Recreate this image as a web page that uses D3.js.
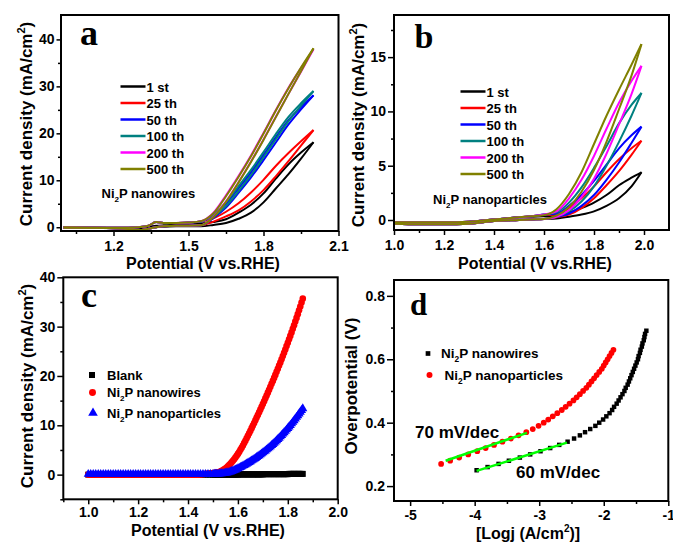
<!DOCTYPE html>
<html>
<head>
<meta charset="utf-8">
<script src="https://cdn.jsdelivr.net/npm/d3@7"></script>
<style>
    body { margin: 0; background: #fff; }
    text { font-family: "Liberation Sans", Arial, sans-serif; font-weight: bold; fill: #000; }
    .tick text { font-size: 14px; }
    .letter { font-family: "Liberation Serif", "Times New Roman", serif; }
</style>
</head>
<body>
<script>

// ---------------- data ----------------

// panel a: CV cycles of Ni2P nanowires, potential grid (V vs RHE)
var potA = [1.0, 1.1, 1.2, 1.26, 1.3, 1.34, 1.37, 1.4, 1.45, 1.5,
            1.55, 1.6, 1.65, 1.7, 1.75, 1.8, 1.85, 1.9, 1.95, 2.0];
// current density (mA/cm2), outgoing branch and return branch per cycle
var a1stUp   = [-0.1, -0.1, -0.1, -0.1, 0.0, 0.1, 0.3, 0.4, 0.5, 0.6, 0.8, 1.1, 1.7, 3.1, 4.8, 7.2, 10.4, 13.4, 15.9, 18.1];
var a1stLo   = [0.0, -0.1, -0.2, -0.3, -0.4, -0.2, 0.0, 0.1, 0.2, 0.2, 0.2, 0.5, 0.9, 1.8, 3.1, 5.3, 8.3, 11.3, 14.6, 18.1];
var a25Up    = [-0.1, -0.1, -0.1, -0.1, 0.0, 0.3, 1.1, 0.9, 0.9, 1.0, 1.2, 1.9, 3.3, 5.1, 7.4, 10.1, 13.1, 15.8, 18.3, 20.7];
var a25Lo    = [0.0, -0.1, -0.2, -0.4, -0.6, -0.3, 0.0, 0.2, 0.3, 0.3, 0.4, 1.2, 2.3, 3.6, 5.5, 7.9, 10.9, 14.1, 17.4, 20.7];
var a50Up    = [-0.1, -0.1, -0.1, -0.1, 0.0, 0.3, 1.1, 0.9, 0.9, 1.0, 1.2, 2.6, 5.0, 8.3, 11.7, 15.4, 19.2, 22.8, 25.6, 28.1];
var a50Lo    = [0.0, -0.1, -0.2, -0.4, -0.6, -0.3, 0.0, 0.2, 0.3, 0.3, 0.4, 2.0, 4.2, 7.3, 10.6, 14.3, 18.1, 21.9, 25.1, 28.1];
var a100Up   = [-0.1, -0.1, -0.1, -0.1, 0.0, 0.3, 1.1, 0.9, 0.9, 1.0, 1.2, 2.8, 5.3, 8.7, 12.2, 16.0, 19.9, 23.5, 26.4, 29.0];
var a100Lo   = [0.0, -0.1, -0.2, -0.4, -0.6, -0.3, 0.0, 0.2, 0.3, 0.3, 0.4, 2.2, 4.5, 7.7, 11.1, 14.9, 18.8, 22.6, 25.9, 29.0];
var a200Up   = [-0.1, -0.1, -0.1, -0.1, 0.0, 0.3, 1.1, 0.9, 0.9, 1.0, 1.3, 3.1, 6.8, 10.9, 15.3, 20.1, 25.0, 29.7, 33.9, 37.9];
var a200Lo   = [0.0, -0.1, -0.2, -0.4, -0.6, -0.3, 0.0, 0.2, 0.3, 0.3, 0.4, 2.3, 5.5, 9.6, 14.0, 18.7, 23.6, 28.4, 33.1, 37.9];
var a500Up   = [-0.1, -0.1, -0.1, -0.1, 0.0, 0.3, 1.1, 0.9, 0.9, 1.0, 1.3, 3.0, 6.6, 10.7, 15.1, 19.9, 24.9, 29.6, 34.0, 38.1];
var a500Lo   = [0.0, -0.1, -0.2, -0.4, -0.6, -0.3, 0.0, 0.2, 0.3, 0.3, 0.4, 2.2, 5.4, 9.5, 13.9, 18.6, 23.5, 28.4, 33.2, 38.1];

// panel b: CV cycles of Ni2P nanoparticles
var potB = [1.0, 1.1, 1.2, 1.3, 1.4, 1.5, 1.55, 1.6, 1.65, 1.7, 1.75, 1.8, 1.85, 1.9, 1.95, 1.99];
var b1stUp  = [-0.2, -0.2, -0.2, -0.15, 0.05, 0.25, 0.3, 0.35, 0.4, 0.7, 1.1, 1.6, 2.3, 3.2, 3.9, 4.4];
var b1stLo  = [-0.35, -0.4, -0.4, -0.35, -0.1, 0.0, 0.05, 0.1, 0.15, 0.3, 0.5, 0.8, 1.3, 2.0, 3.1, 4.4];
var b25Up   = [-0.2, -0.2, -0.2, -0.15, 0.05, 0.25, 0.35, 0.45, 0.5, 1.1, 2.0, 3.1, 4.4, 5.6, 6.6, 7.3];
var b25Lo   = [-0.35, -0.4, -0.4, -0.35, -0.1, 0.0, 0.05, 0.1, 0.25, 0.5, 1.1, 2.0, 3.2, 4.5, 6.0, 7.3];
var b50Up   = [-0.2, -0.2, -0.2, -0.15, 0.05, 0.25, 0.35, 0.5, 0.6, 1.3, 2.3, 3.6, 5.1, 6.6, 7.8, 8.6];
var b50Lo   = [-0.35, -0.4, -0.4, -0.35, -0.1, 0.0, 0.05, 0.1, 0.3, 0.6, 1.3, 2.3, 3.7, 5.3, 7.1, 8.6];
var b100Up  = [-0.2, -0.2, -0.2, -0.15, 0.05, 0.25, 0.35, 0.5, 0.7, 1.6, 3.0, 4.8, 6.8, 8.9, 10.6, 11.7];
var b100Lo  = [-0.35, -0.4, -0.4, -0.35, -0.1, 0.0, 0.05, 0.1, 0.3, 0.8, 1.7, 3.1, 5.0, 7.2, 9.6, 11.7];
var b200Up  = [-0.2, -0.2, -0.2, -0.15, 0.05, 0.25, 0.35, 0.5, 0.8, 2.0, 3.7, 5.9, 8.4, 10.8, 12.8, 14.2];
var b200Lo  = [-0.35, -0.4, -0.4, -0.35, -0.1, 0.0, 0.05, 0.1, 0.3, 0.9, 2.1, 3.8, 6.1, 8.8, 11.6, 14.2];
var b500Up  = [-0.2, -0.2, -0.2, -0.15, 0.05, 0.25, 0.35, 0.45, 1.0, 2.4, 4.4, 7.0, 9.6, 12.0, 14.3, 16.2];
var b500Lo  = [-0.35, -0.4, -0.4, -0.35, -0.1, 0.0, 0.05, 0.1, 0.4, 1.2, 2.6, 4.6, 7.2, 10.2, 13.3, 16.2];

var cycleNames  = ["1 st", "25 th", "50 th", "100 th", "200 th", "500 th"];
var cycleColors = ["#000000", "#ff0000", "#0000ff", "#008080", "#ff00ff", "#808000"];

// panel c: polarization curves
var potC = [1.00, 1.01, 1.02, 1.03, 1.04, 1.05, 1.06, 1.07, 1.08, 1.09,
            1.10, 1.11, 1.12, 1.13, 1.14, 1.15, 1.16, 1.17, 1.18, 1.19,
            1.20, 1.21, 1.22, 1.23, 1.24, 1.25, 1.26, 1.27, 1.28, 1.29,
            1.30, 1.31, 1.32, 1.33, 1.34, 1.35, 1.36, 1.37, 1.38, 1.39,
            1.40, 1.41, 1.42, 1.43, 1.44, 1.45, 1.46, 1.47, 1.48, 1.49,
            1.50,
            1.505, 1.510, 1.515, 1.520, 1.525, 1.530, 1.535, 1.540, 1.545, 1.550,
            1.555, 1.560, 1.565, 1.570, 1.575, 1.580, 1.585, 1.590, 1.595, 1.600,
            1.605, 1.610, 1.615, 1.620, 1.625, 1.630, 1.635, 1.640, 1.645, 1.650,
            1.655, 1.660, 1.665, 1.670, 1.675, 1.680, 1.685, 1.690, 1.695, 1.700,
            1.705, 1.710, 1.715, 1.720, 1.725, 1.730, 1.735, 1.740, 1.745, 1.750,
            1.755, 1.760, 1.765, 1.770, 1.775, 1.780, 1.785, 1.790, 1.795, 1.800,
            1.805, 1.810, 1.815, 1.820, 1.825, 1.830, 1.835, 1.840, 1.845, 1.850,
            1.855, 1.860];
var blankC = [0, 0, 0, 0, 0, 0, 0, 0, 0, 0,
              0, 0, 0, 0, 0, 0, 0, 0, 0, 0,
              0, 0, 0, 0, 0, 0, 0, 0, 0, 0,
              0, 0, 0, 0, 0, 0, 0, 0, 0, 0,
              0, 0, 0, 0, 0, 0, 0, 0, 0, 0,
              0,
              0, 0, 0, 0, 0, 0, 0, 0, 0, 0,
              0, 0, 0, 0, 0, 0, 0, 0, 0, 0,
              0.05, 0.05, 0.05, 0.05, 0.05, 0.05, 0.05, 0.05, 0.05, 0.05,
              0.05, 0.05, 0.05, 0.05, 0.05, 0.05, 0.05, 0.05, 0.05, 0.05,
              0.1, 0.1, 0.1, 0.1, 0.1, 0.1, 0.1, 0.1, 0.1, 0.1,
              0.1, 0.1, 0.1, 0.1, 0.1, 0.1, 0.1, 0.1, 0.1, 0.1,
              0.15, 0.15, 0.15, 0.15, 0.15, 0.15, 0.15, 0.15, 0.15, 0.15,
              0.15, 0.15];
var wiresC = [0, 0, 0, 0, 0, 0, 0, 0, 0, 0,
              0, 0, 0, 0, 0, 0, 0, 0, 0, 0,
              0, 0, 0, 0, 0, 0, 0, 0, 0, 0,
              0, 0, 0, 0, 0, 0, 0, 0, 0, 0,
              0, 0, 0, 0, 0, 0.05, 0.1, 0.15, 0.2, 0.25,
              0.3,
              0.32, 0.35, 0.40, 0.46, 0.54, 0.64, 0.76, 0.90, 1.06, 1.24,
              1.45, 1.68, 1.93, 2.20, 2.49, 2.80, 3.12, 3.46, 3.82, 4.20,
              4.60, 5.02, 5.46, 5.92, 6.40, 6.88, 7.37, 7.87, 8.38, 8.90,
              9.42, 9.95, 10.48, 11.02, 11.56, 12.10, 12.65, 13.20, 13.76, 14.32,
              14.89, 15.46, 16.04, 16.62, 17.21, 17.80, 18.40, 19.00, 19.61, 20.22,
              20.84, 21.47, 22.10, 22.74, 23.39, 24.04, 24.70, 25.37, 26.05, 26.73,
              27.42, 28.12, 28.83, 29.55, 30.28, 31.02, 31.77, 32.53, 33.30, 34.08,
              34.87, 35.67];
var particlesC = [0.1, 0.1, 0.1, 0.1, 0.1, 0.1, 0.1, 0.1, 0.1, 0.1,
                  0.1, 0.1, 0.1, 0.1, 0.1, 0.1, 0.1, 0.1, 0.1, 0.1,
                  0.1, 0.1, 0.1, 0.1, 0.1, 0.1, 0.1, 0.1, 0.1, 0.1,
                  0.1, 0.1, 0.1, 0.1, 0.1, 0.1, 0.1, 0.1, 0.1, 0.1,
                  0.1, 0.1, 0.1, 0.1, 0.1, 0.1, 0.1, 0.1, 0.1, 0.1,
                  0.1,
                  0.12, 0.13, 0.14, 0.15, 0.17, 0.19, 0.21, 0.24, 0.27, 0.31,
                  0.36, 0.42, 0.49, 0.57, 0.66, 0.76, 0.87, 0.98, 1.10, 1.22,
                  1.35, 1.48, 1.62, 1.76, 1.90, 2.05, 2.20, 2.35, 2.50, 2.66,
                  2.82, 2.98, 3.15, 3.32, 3.50, 3.68, 3.86, 4.05, 4.24, 4.44,
                  4.64, 4.84, 5.05, 5.26, 5.48, 5.70, 5.93, 6.16, 6.40, 6.65,
                  6.90, 7.16, 7.42, 7.69, 7.96, 8.24, 8.52, 8.81, 9.10, 9.40,
                  9.70, 10.00, 10.32, 10.64, 10.97, 11.30, 11.64, 11.98, 12.33, 12.68,
                  13.04, 13.40];

// panel d: Tafel plots, overpotential (V) vs log j
var etaWires  = [0.25, 0.26, 0.27, 0.28, 0.29, 0.30, 0.31, 0.32, 0.33, 0.34,
                 0.35, 0.36, 0.37, 0.38, 0.39, 0.40, 0.41, 0.42, 0.43, 0.44,
                 0.45, 0.46, 0.47, 0.48, 0.49, 0.50, 0.51, 0.52, 0.53, 0.54,
                 0.55, 0.56, 0.57, 0.58, 0.59, 0.60, 0.61, 0.62, 0.63, 0.64,
                 0.65, 0.66, 0.67, 0.68, 0.69];
var logjWires = [-3.97, -3.80, -3.63, -3.47, -3.30, -3.14, -2.98, -2.83, -2.69, -2.56,
                 -2.46, -2.37, -2.29, -2.21, -2.13, -2.07, -2.01, -1.96, -1.91, -1.87,
                 -1.84, -1.80, -1.77, -1.74, -1.71, -1.68, -1.66, -1.63, -1.61, -1.59,
                 -1.57, -1.55, -1.53, -1.51, -1.49, -1.47, -1.46, -1.44, -1.43, -1.41,
                 -1.40, -1.38, -1.37, -1.36, -1.34];
var etaParticles  = [0.27, 0.28, 0.29, 0.30, 0.31, 0.32, 0.33, 0.34, 0.35, 0.36,
                     0.37, 0.38, 0.39, 0.40, 0.41, 0.42, 0.43, 0.44, 0.45, 0.46,
                     0.47, 0.48, 0.49, 0.50, 0.51, 0.52, 0.53, 0.54, 0.55, 0.56,
                     0.57, 0.58, 0.59, 0.60, 0.61, 0.62, 0.63];
var logjParticles = [-4.52, -4.38, -4.24, -4.10, -3.96, -3.83, -3.70, -3.57, -3.44, -3.32,
                     -3.20, -3.10, -3.01, -2.93, -2.86, -2.79, -2.72, -2.65, -2.59, -2.53,
                     -2.47, -2.42, -2.37, -2.32, -2.27, -2.23, -2.19, -2.15, -2.11, -2.07,
                     -2.03, -2.00, -1.97, -1.94, -1.91, -1.88, -1.85];
// linear Tafel fits
var fitWiresLogj = [-3.97, -2.57];
var fitWiresEta  = [0.248, 0.337];
var fitPartLogj  = [-4.45, -3.19];
var fitPartEta   = [0.280, 0.368];

// tick values
var ticksAx = [1.2, 1.5, 1.8, 2.1],          minorAx = [1.05, 1.35, 1.65, 1.95];
var ticksAy = [0, 10, 20, 30, 40],           minorAy = [5, 15, 25, 35];
var ticksBx = [1.0, 1.2, 1.4, 1.6, 1.8, 2.0], minorBx = [1.1, 1.3, 1.5, 1.7, 1.9];
var ticksBy = [0, 5, 10, 15],                minorBy = [2.5, 7.5, 12.5, 17.5];
var ticksCx = [1.0, 1.2, 1.4, 1.6, 1.8, 2.0], minorCx = [0.9, 1.1, 1.3, 1.5, 1.7, 1.9];
var ticksCy = [0, 10, 20, 30, 40],           minorCy = [-5, 5, 15, 25, 35];
var ticksDx = [-5, -4, -3, -2, -1],          minorDx = [-4.5, -3.5, -2.5, -1.5];
var ticksDy = [0.2, 0.4, 0.6, 0.8],          minorDy = [0.3, 0.5, 0.7];


// ---------------- drawing ----------------

var svg = d3.select("body").append("svg")
    .attr("width", 673)
    .attr("height", 544);

var fmt1 = d3.format(".1f");
var fmtInt = function(d) { return String(d); };

// axes box with outward ticks on bottom and left
function drawAxes(p) {
    var x = d3.scaleLinear().domain(p.xDomain).range([p.left, p.right]);
    var y = d3.scaleLinear().domain(p.yDomain).range([p.bottom, p.top]);

    svg.append("g")
        .attr("transform", "translate(0," + p.bottom + ")")
        .call(d3.axisBottom(x).tickValues(p.xTicks).tickFormat(p.xFormat).tickSize(5).tickPadding(p.xPad));
    svg.append("g")
        .attr("transform", "translate(0," + p.bottom + ")")
        .call(d3.axisBottom(x).tickValues(p.xMinor).tickFormat("").tickSize(3));
    svg.append("g")
        .attr("transform", "translate(" + p.left + ",0)")
        .call(d3.axisLeft(y).tickValues(p.yTicks).tickFormat(p.yFormat).tickSize(p.yTickLen).tickPadding(2));
    svg.append("g")
        .attr("transform", "translate(" + p.left + ",0)")
        .call(d3.axisLeft(y).tickValues(p.yMinor).tickFormat("").tickSize(3));

    svg.selectAll(".domain").remove();
    svg.selectAll(".tick line").attr("stroke-width", 1.5);

    return {x: x, y: y};
}

function drawBox(p) {
    svg.append("rect")
        .attr("x", p.left)
        .attr("y", p.top)
        .attr("width", p.right - p.left)
        .attr("height", p.bottom - p.top)
        .attr("fill", "none")
        .attr("stroke", "#000")
        .attr("stroke-width", 2);
}

// rotated y title with optional superscript unit
function yTitle(x, y, main, sup, tail) {
    var t = svg.append("text")
        .attr("transform", "translate(" + x + "," + y + ") rotate(-90)")
        .attr("text-anchor", "middle")
        .attr("font-size", 17);
    t.append("tspan").text(main);
    if (sup) {
        t.append("tspan").attr("dy", -7).attr("font-size", 11).text(sup);
        t.append("tspan").attr("dy", 7).text(tail);
    }
}

function xTitle(x, y, main, sup, tail) {
    var t = svg.append("text")
        .attr("x", x)
        .attr("y", y)
        .attr("text-anchor", "middle")
        .attr("font-size", 16);
    t.append("tspan").text(main);
    if (sup) {
        t.append("tspan").attr("dy", -7).attr("font-size", 10).text(sup);
        t.append("tspan").attr("dy", 7).text(tail);
    }
}

// "Ni2P ..." label with subscript 2
function niLabel(x, y, rest, size) {
    var t = svg.append("text")
        .attr("x", x)
        .attr("y", y)
        .attr("font-size", size);
    t.append("tspan").text("Ni");
    t.append("tspan").attr("dy", 4).attr("font-size", size * 0.62).text("2");
    t.append("tspan").attr("dy", -4).text("P" + rest);
}

function letter(x, y, s, size) {
    svg.append("text")
        .attr("class", "letter")
        .attr("x", x)
        .attr("y", y)
        .attr("font-size", size)
        .text(s);
}

// draw the two branches of each CV loop
function drawLoops(sc, pot, ups, los) {
    var line = d3.line()
        .x(function(d) { return sc.x(d[0]); })
        .y(function(d) { return sc.y(d[1]); })
        .curve(d3.curveMonotoneX);
    for (var i = 0; i < ups.length; i++) {
        [ups[i], los[i]].forEach(function(arr) {
            svg.append("path")
                .datum(pot.map(function(v, k) { return [v, arr[k]]; }))
                .attr("d", line)
                .attr("fill", "none")
                .attr("stroke", cycleColors[i])
                .attr("stroke-width", 2)
                .attr("stroke-linejoin", "round");
        });
    }
}

function cycleLegend(x0, y0) {
    for (var i = 0; i < cycleNames.length; i++) {
        var yy = y0 + i * 16.5;
        svg.append("line")
            .attr("x1", x0).attr("x2", x0 + 25)
            .attr("y1", yy).attr("y2", yy)
            .attr("stroke", cycleColors[i])
            .attr("stroke-width", 2.5);
        svg.append("text")
            .attr("x", x0 + 26)
            .attr("y", yy + 5)
            .attr("font-size", 13)
            .text(cycleNames[i]);
    }
}

function drawSymbols(sc, xs, ys, type, size, color) {
    var sym = d3.symbol().type(type).size(size);
    svg.append("g").selectAll("path")
        .data(xs.map(function(v, k) { return [v, ys[k]]; }))
        .enter().append("path")
        .attr("d", sym)
        .attr("transform", function(d) { return "translate(" + sc.x(d[0]) + "," + sc.y(d[1]) + ")"; })
        .attr("fill", color);
}

// ---- panel a ----
var pA = {left: 61, right: 338.5, top: 15, bottom: 231,
          xDomain: [0.99, 2.1], yDomain: [-0.8, 45.2],
          xTicks: ticksAx, xMinor: minorAx, yTicks: ticksAy, yMinor: minorAy,
          xFormat: fmt1, yFormat: fmtInt, yTickLen: 4.5, xPad: 5};
var scA = drawAxes(pA);
drawLoops(scA, potA, [a1stUp, a25Up, a50Up, a100Up, a200Up, a500Up],
                     [a1stLo, a25Lo, a50Lo, a100Lo, a200Lo, a500Lo]);
drawBox(pA);
cycleLegend(120.5, 86.5);
niLabel(101.5, 198, " nanowires", 13);
letter(80, 45, "a", 36);
yTitle(32, 124, "Current density (mA/cm", "2", ")");
xTitle(203, 269, "Potential (V vs.RHE)");

// ---- panel b ----
var pB = {left: 394, right: 669, top: 15, bottom: 230,
          xDomain: [1.0, 2.1], yDomain: [-0.92, 18.88],
          xTicks: ticksBx, xMinor: minorBx, yTicks: ticksBy, yMinor: minorBy,
          xFormat: fmt1, yFormat: fmtInt, yTickLen: 6, xPad: 5};
var scB = drawAxes(pB);
drawLoops(scB, potB, [b1stUp, b25Up, b50Up, b100Up, b200Up, b500Up],
                     [b1stLo, b25Lo, b50Lo, b100Lo, b200Lo, b500Lo]);
drawBox(pB);
cycleLegend(460.5, 91.5);
niLabel(433, 204, " nanoparticles", 13);
letter(414.5, 48, "b", 34);
yTitle(364, 125, "Current density (mA/cm", "2", ")");
xTitle(535, 269, "Potential (V vs.RHE)");

// ---- panel c ----
var pC = {left: 63.3, right: 337.7, top: 277.3, bottom: 499.3,
          xDomain: [0.9, 2.0], yDomain: [-5, 40],
          xTicks: ticksCx, xMinor: minorCx, yTicks: ticksCy, yMinor: minorCy,
          xFormat: fmt1, yFormat: fmtInt, yTickLen: 6, xPad: 3};
var scC = drawAxes(pC);
drawSymbols(scC, potC, blankC, d3.symbolSquare, 36, "#000000");
drawSymbols(scC, potC, wiresC, d3.symbolCircle, 34, "#ff0000");
drawSymbols(scC, potC, particlesC, d3.symbolTriangle, 36, "#0000ff");
drawBox(pC);
svg.append("path").attr("d", d3.symbol().type(d3.symbolSquare).size(36)).attr("transform", "translate(92,375)").attr("fill", "#000");
svg.append("path").attr("d", d3.symbol().type(d3.symbolCircle).size(38)).attr("transform", "translate(92.5,392.5)").attr("fill", "#ff0000");
svg.append("path").attr("d", d3.symbol().type(d3.symbolTriangle).size(40)).attr("transform", "translate(93,413)").attr("fill", "#0000ff");
svg.append("text").attr("x", 107).attr("y", 380).attr("font-size", 13).text("Blank");
niLabel(107, 397, " nanowires", 13);
niLabel(107, 418, " nanoparticles", 13);
letter(81, 306.5, "c", 36);
yTitle(33, 386, "Current density (mA/cm", "2", ")");
xTitle(208, 536, "Potential (V vs.RHE)");

// ---- panel d ----
var pD = {left: 394, right: 668.3, top: 280, bottom: 501,
          xDomain: [-5.25, -1], yDomain: [0.153, 0.85],
          xTicks: ticksDx, xMinor: minorDx, yTicks: ticksDy, yMinor: minorDy,
          xFormat: fmtInt, yFormat: fmt1, yTickLen: 7, xPad: 4};
var scD = drawAxes(pD);
drawSymbols(scD, logjWires, etaWires, d3.symbolSquare, 20, "#000000");
drawSymbols(scD, logjParticles, etaParticles, d3.symbolCircle, 26, "#ff0000");
[[fitWiresLogj, fitWiresEta], [fitPartLogj, fitPartEta]].forEach(function(f) {
    svg.append("line")
        .attr("x1", scD.x(f[0][0])).attr("y1", scD.y(f[1][0]))
        .attr("x2", scD.x(f[0][1])).attr("y2", scD.y(f[1][1]))
        .attr("stroke", "#00ff00")
        .attr("stroke-width", 2.5);
});
drawBox(pD);
svg.append("path").attr("d", d3.symbol().type(d3.symbolSquare).size(22)).attr("transform", "translate(428,353.5)").attr("fill", "#000");
svg.append("path").attr("d", d3.symbol().type(d3.symbolCircle).size(28)).attr("transform", "translate(429.5,375)").attr("fill", "#ff0000");
niLabel(441, 358, " nanowires", 13.5);
niLabel(444.5, 380, " nanoparticles", 13.5);
svg.append("text").attr("x", 415).attr("y", 438).attr("font-size", 17).text("70 mV/dec");
svg.append("text").attr("x", 516).attr("y", 478).attr("font-size", 17).text("60 mV/dec");
letter(410, 315, "d", 31);
yTitle(357, 386, "Overpotential (V)");
xTitle(528, 539, "[Logj (A/cm", "2", ")]");

</script>
</body>
</html>
